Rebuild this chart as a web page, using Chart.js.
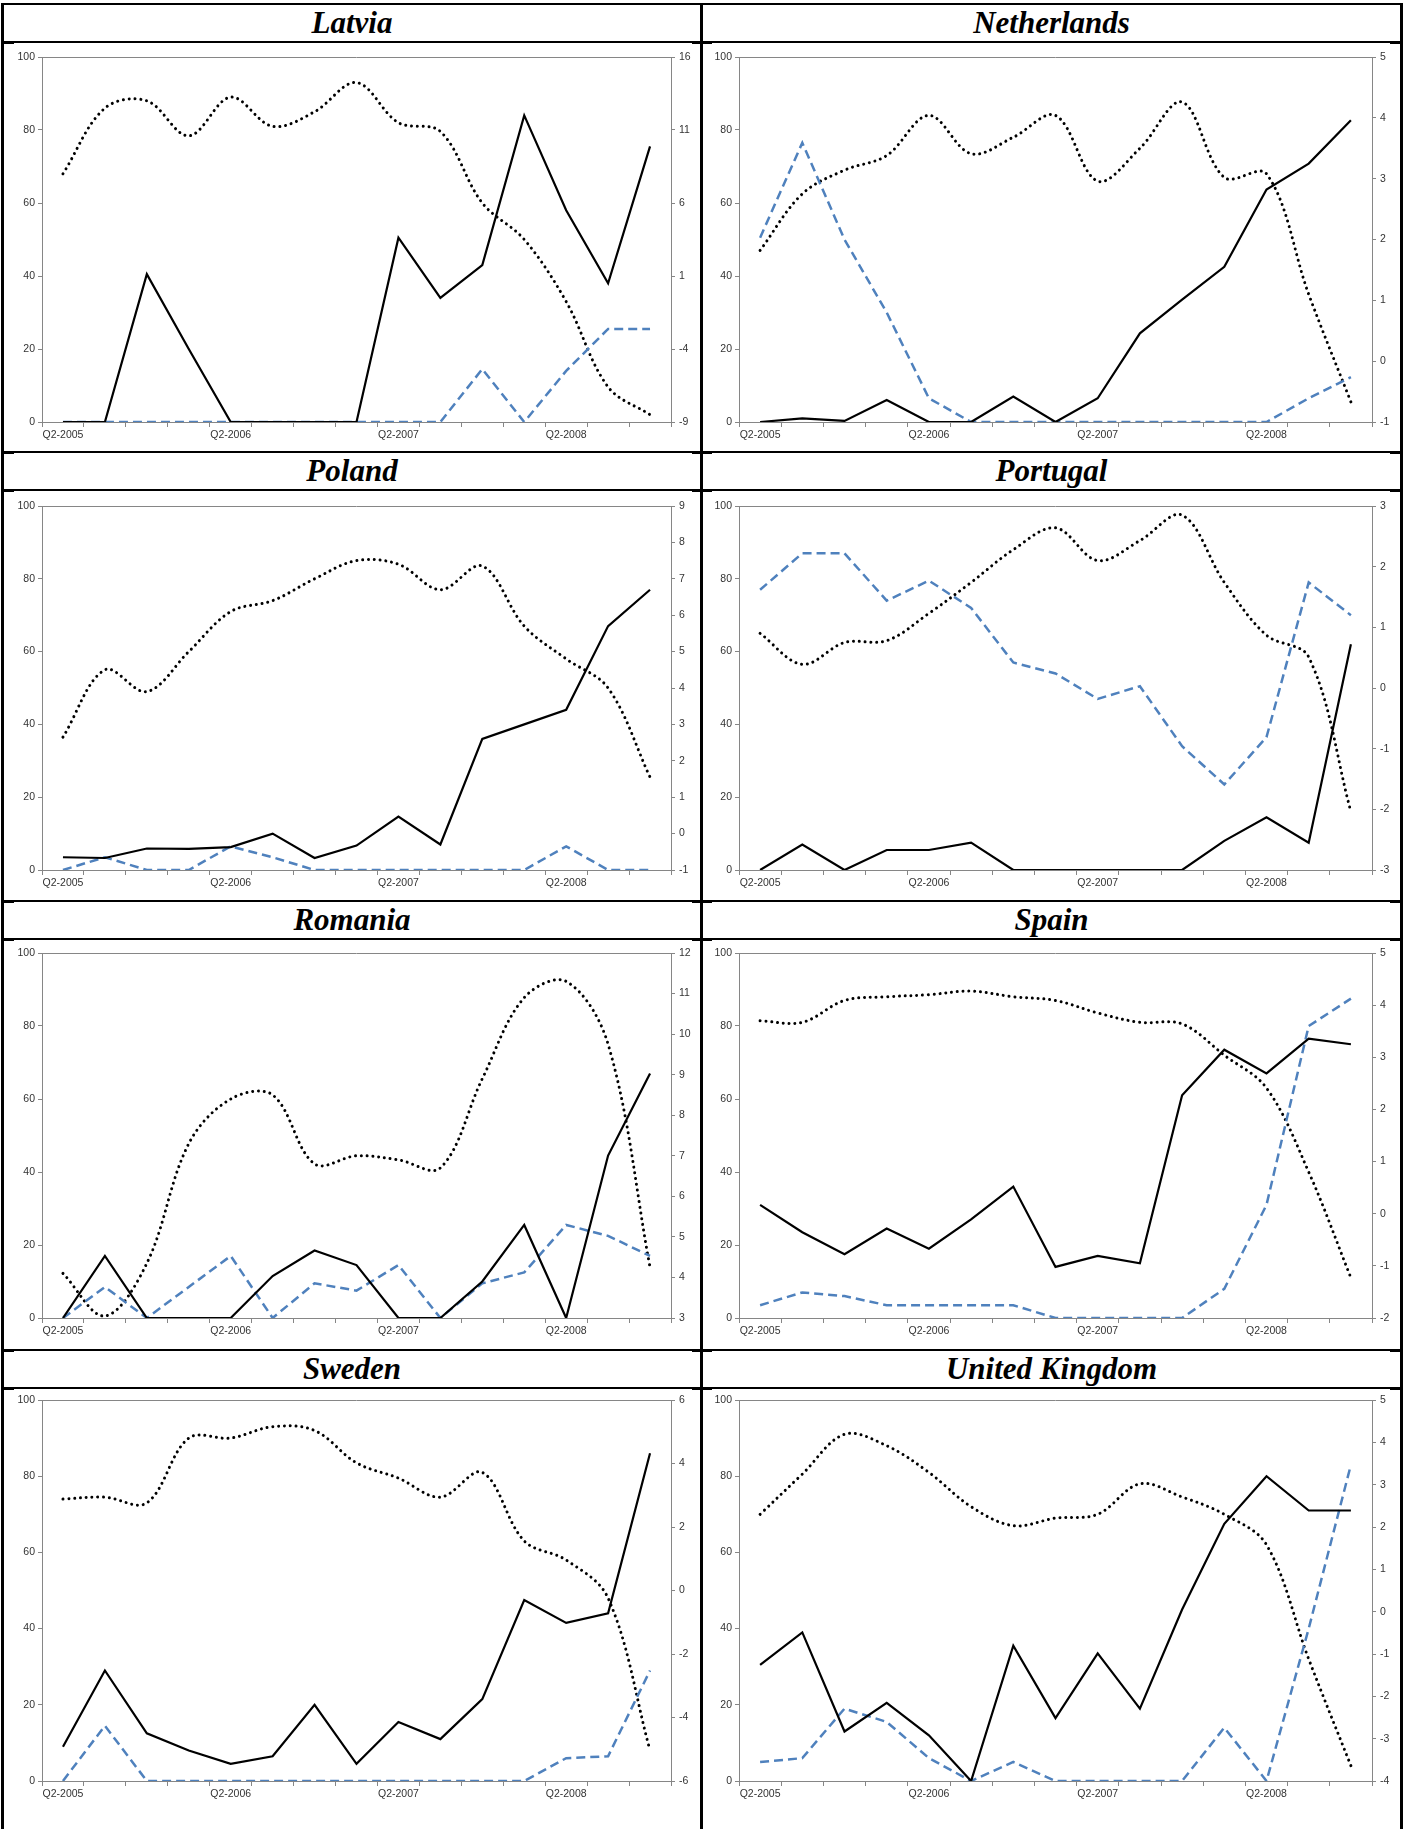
<!DOCTYPE html>
<html>
<head>
<meta charset="utf-8">
<script src="https://cdn.jsdelivr.net/npm/chart.js@4.4.1/dist/chart.umd.min.js"></script>
<style>
  html, body { margin: 0; padding: 0; background: #fff; overflow: hidden; }
  #page { position: relative; width: 1410px; height: 1829px; overflow: hidden; background: #fff; }
  .title {
    position: absolute;
    font-family: 'Liberation Serif', 'Times New Roman', serif;
    font-weight: bold; font-style: italic; font-size: 31px;
    text-align: center; line-height: 36px; height: 36px; color: #000;
  }
  .rule { position: absolute; background: #000; z-index: 5; }
  canvas { position: absolute; }
</style>
</head>
<body>
<div id="page"></div>
<script>
// ---- data ----------------------------------------------------------------
const quarters = ['Q2-2005', 'Q3-2005', 'Q4-2005', 'Q1-2006', 'Q2-2006', 'Q3-2006', 'Q4-2006',
                  'Q1-2007', 'Q2-2007', 'Q3-2007', 'Q4-2007', 'Q1-2008', 'Q2-2008', 'Q3-2008', 'Q4-2008'];
const labelledQuarters = ['Q2-2005', 'Q2-2006', 'Q2-2007', 'Q2-2008'];
const leftTicks = [0, 20, 40, 60, 80, 100];

const countries = ['Latvia', 'Netherlands', 'Poland', 'Portugal', 'Romania', 'Spain', 'Sweden', 'United Kingdom'];

// A and B are read on the left axis (0-100), C on the right axis
const latviaA = [0, 0, 40.5, 20, 0, 0, 0, 0, 50.5, 34, 43, 84, 58, 38, 75.5];
const latviaB = [0, 0, 0, 0, 0, 0, 0, 0, 0, 0, 14.5, 0, 14, 25.5, 25.5];
const latviaC = [8.0, 12.5, 13.0, 10.6, 13.25, 11.25, 12.25, 14.25, 11.5, 10.9, 6.0, 3.5, -0.75, -6.6, -8.5];
const latviaTicks = [-9, -4, 1, 6, 11, 16];

const netherlandsA = [0, 1, 0.3, 6, 0, 0, 7, 0, 6.5, 24.3, 33.5, 42.5, 63.7, 70.8, 82.7];
const netherlandsB = [50.5, 76.5, 50, 30, 6.5, 0, 0, 0, 0, 0, 0, 0, 0, 6.5, 12.3];
const netherlandsC = [1.82, 2.75, 3.14, 3.38, 4.04, 3.41, 3.68, 4.04, 2.96, 3.5, 4.26, 3.02, 3.08, 1.1, -0.67];
const netherlandsTicks = [-1, 0, 1, 2, 3, 4, 5];

const polandA = [3.5, 3.3, 5.9, 5.8, 6.3, 10, 3.3, 6.7, 14.7, 7, 36, 40, 44, 67, 77];
const polandB = [0, 3.5, 0, 0, 6.5, 3.5, 0, 0, 0, 0, 0, 0, 6.5, 0, 0];
const polandC = [2.65, 4.5, 3.9, 5.0, 6.1, 6.4, 7.0, 7.5, 7.4, 6.7, 7.35, 5.7, 4.8, 4.0, 1.55];
const polandTicks = [-1, 0, 1, 2, 3, 4, 5, 6, 7, 8, 9];

const portugalA = [0, 7, 0, 5.5, 5.5, 7.5, 0, 0, 0, 0, 0, 8, 14.5, 7.5, 62];
const portugalB = [77, 87, 87, 74, 79.5, 72, 57, 54, 47, 50.5, 34, 23.5, 36.5, 79, 70];
const portugalC = [0.9, 0.39, 0.75, 0.78, 1.23, 1.74, 2.28, 2.64, 2.1, 2.43, 2.85, 1.74, 0.87, 0.51, -2.04];
const portugalTicks = [-3, -2, -1, 0, 1, 2, 3];

const romaniaA = [0, 17, 0, 0, 0, 11.5, 18.5, 14.5, 0, 0, 10, 25.5, 0, 44.5, 67];
const romaniaB = [0, 8.5, 0, 8.5, 17, 0, 9.5, 7.5, 14.5, 0, 9.5, 12.5, 25.5, 22.5, 17];
const romaniaC = [4.1, 3.05, 4.35, 7.3, 8.4, 8.5, 6.8, 7.0, 6.9, 6.7, 8.9, 10.9, 11.3, 9.75, 4.25];
const romaniaTicks = [3, 4, 5, 6, 7, 8, 9, 10, 11, 12];

const spainA = [31, 23.5, 17.5, 24.5, 19, 27, 36, 14, 17, 15, 61, 73.5, 67, 76.5, 75];
const spainB = [3.5, 7, 6, 3.5, 3.5, 3.5, 3.5, 0, 0, 0, 0, 8, 31, 80, 87.5];
const spainC = [3.7, 3.67, 4.09, 4.16, 4.2, 4.27, 4.16, 4.09, 3.85, 3.67, 3.64, 3.04, 2.41, 0.8, -1.23];
const spainTicks = [-2, -1, 0, 1, 2, 3, 4, 5];

const swedenA = [9, 29, 12.5, 8, 4.5, 6.5, 20, 4.5, 15.5, 11, 21.5, 47.5, 41.5, 44, 86];
const swedenB = [0, 14.5, 0, 0, 0, 0, 0, 0, 0, 0, 0, 0, 6, 6.5, 29];
const swedenC = [2.88, 2.94, 2.76, 4.8, 4.8, 5.16, 5.04, 4.02, 3.54, 2.94, 3.72, 1.56, 0.96, -0.24, -5.04];
const swedenTicks = [-6, -4, -2, 0, 2, 4, 6];

const ukA = [30.5, 39, 13, 20.5, 12, 0, 35.5, 16.5, 33.5, 19, 45, 67.5, 80, 71, 71];
const ukB = [5, 6, 19, 15.5, 6, 0, 5, 0, 0, 0, 0, 14, 0, 40, 83];
const ukC = [2.3, 3.25, 4.19, 3.92, 3.29, 2.48, 2.03, 2.21, 2.3, 3.02, 2.71, 2.3, 1.58, -1.12, -3.64];
const ukTicks = [-4, -3, -2, -1, 0, 1, 2, 3, 4, 5];

const panels = [
  { a: latviaA, b: latviaB, c: latviaC, ticks: latviaTicks },
  { a: netherlandsA, b: netherlandsB, c: netherlandsC, ticks: netherlandsTicks },
  { a: polandA, b: polandB, c: polandC, ticks: polandTicks },
  { a: portugalA, b: portugalB, c: portugalC, ticks: portugalTicks },
  { a: romaniaA, b: romaniaB, c: romaniaC, ticks: romaniaTicks },
  { a: spainA, b: spainB, c: spainC, ticks: spainTicks },
  { a: swedenA, b: swedenB, c: swedenC, ticks: swedenTicks },
  { a: ukA, b: ukB, c: ukC, ticks: ukTicks }
];

// ---- page layout -----------------------------------------------------------
const page = document.getElementById('page');
const colX = [0, 702];             // canvas left per column
const colW = [702, 700];           // canvas width per column
const axisW = [[42, 31], [37, 30]]; // [left axis, right axis] widths per column
const titleX = [[4, 700], [703, 1400]];
const headerTop = [5, 453, 902, 1351];    // title band top
const canvasTop = [43, 491, 940, 1389];
const canvasH = [408, 409, 409, 440];
const plotTop = [14, 15, 13, 11];
const plotBottom = [379, 379, 378, 392];

function rule(x, y, w, h) {
  const d = document.createElement('div');
  d.className = 'rule';
  d.style.left = x + 'px'; d.style.top = y + 'px';
  d.style.width = w + 'px'; d.style.height = h + 'px';
  page.appendChild(d);
}

// table frame
rule(1, 3, 1402, 2);
rule(1, 3, 3, 1826);
rule(700, 3, 3, 1826);
rule(1400, 3, 3, 1826);
const hLines = [41, 451, 489, 900, 938, 1349, 1387];
hLines.forEach(y => {
  rule(1, y, 1402, 2);
  rule(692, y - 0.5, 20, 3);
  rule(1, y - 0.5, 13, 3);
  rule(1390, y - 0.5, 13, 3);
});

const axisGray = '#868686';
const tickFont = { family: "'Liberation Sans', Arial, sans-serif", size: 10.5 };

const frameTop = {
  id: 'frameTop',
  beforeDatasetsDraw(chart) {
    const { ctx, chartArea: a } = chart;
    ctx.save();
    ctx.strokeStyle = axisGray;
    ctx.lineWidth = 1;
    ctx.beginPath();
    ctx.moveTo(a.left, Math.round(a.top) + 0.5);
    ctx.lineTo(a.right, Math.round(a.top) + 0.5);
    ctx.stroke();
    ctx.restore();
  }
};

panels.forEach((p, k) => {
  const row = Math.floor(k / 2), col = k % 2;

  const t = document.createElement('div');
  t.className = 'title';
  t.textContent = countries[k];
  t.style.left = titleX[col][0] + 'px';
  t.style.width = (titleX[col][1] - titleX[col][0]) + 'px';
  t.style.top = headerTop[row] + 'px';
  page.appendChild(t);

  const cv = document.createElement('canvas');
  cv.width = colW[col];
  cv.height = canvasH[row];
  cv.style.left = colX[col] + 'px';
  cv.style.top = canvasTop[row] + 'px';
  page.appendChild(cv);

  const xH = canvasH[row] - plotBottom[row];
  const lw = axisW[col][0], rw = axisW[col][1];

  new Chart(cv, {
    type: 'line',
    data: {
      labels: quarters,
      datasets: [
        { data: p.a, yAxisID: 'y', borderColor: '#000', borderWidth: 2.2, tension: 0,
          pointRadius: 0, fill: false },
        { data: p.b, yAxisID: 'y', borderColor: '#4F81BD', borderWidth: 2.5, borderDash: [9, 5],
          tension: 0, pointRadius: 0, fill: false },
        { data: p.c, yAxisID: 'y1', borderColor: '#000', borderWidth: 3, borderDash: [0.01, 5.8],
          borderCapStyle: 'round', tension: 0.35, pointRadius: 0, fill: false }
      ]
    },
    options: {
      responsive: false,
      animation: false,
      devicePixelRatio: 1,
      layout: { padding: { top: plotTop[row], bottom: 0, left: 0, right: 0 } },
      plugins: { legend: { display: false }, tooltip: { enabled: false }, title: { display: false } },
      scales: {
        x: {
          type: 'category',
          offset: true,
          grid: { offset: true, drawOnChartArea: false, drawTicks: true, tickLength: 5,
                  color: axisGray, lineWidth: 1 },
          border: { display: true, color: axisGray, width: 1 },
          ticks: {
            autoSkip: false, maxRotation: 0, minRotation: 0, padding: 2,
            color: '#333', font: tickFont,
            callback: (v, i) => labelledQuarters.includes(quarters[i]) ? quarters[i] : ''
          },
          afterFit: s => { s.height = xH; }
        },
        y: {
          position: 'left',
          min: leftTicks[0], max: leftTicks[leftTicks.length - 1],
          afterBuildTicks: s => { s.ticks = leftTicks.map(v => ({ value: v })); },
          grid: { drawOnChartArea: false, drawTicks: true, tickLength: 4, color: axisGray },
          border: { display: true, color: axisGray, width: 1 },
          ticks: { padding: 3, color: '#333', font: tickFont },
          afterFit: s => { s.width = lw; }
        },
        y1: {
          position: 'right',
          min: p.ticks[0], max: p.ticks[p.ticks.length - 1],
          afterBuildTicks: s => { s.ticks = p.ticks.map(v => ({ value: v })); },
          grid: { drawOnChartArea: false, drawTicks: true, tickLength: 4, color: axisGray },
          border: { display: true, color: axisGray, width: 1 },
          ticks: { padding: 4, color: '#333', font: tickFont },
          afterFit: s => { s.width = rw; }
        }
      }
    },
    plugins: [frameTop]
  });
});
</script>
</body>
</html>
